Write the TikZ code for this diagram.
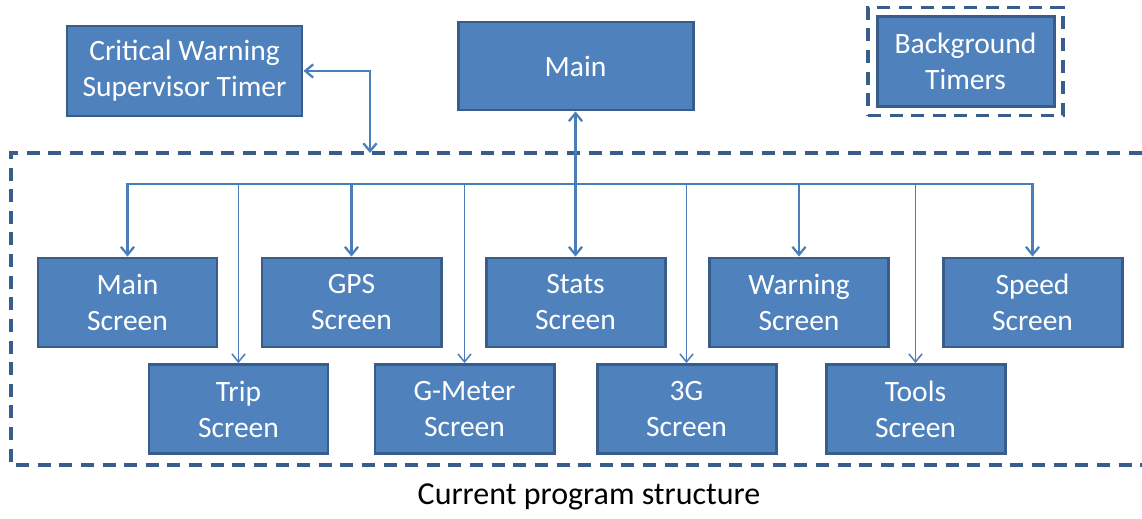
\documentclass[tikz,border=0pt]{standalone}
\usepackage{fontspec}
\setmainfont{Carlito}
\usetikzlibrary{arrows.meta,fit}
\definecolor{boxfill}{HTML}{4F81BD}
\definecolor{boxline}{HTML}{385D8A}
\definecolor{wire}{HTML}{4A7EBB}

\begin{document}
\begin{tikzpicture}[
	barb/.tip={Straight Barb[length=4.5pt,width=7.5pt]},
	blk/.style={draw=boxline,fill=boxfill,line width=1.7pt,text=white,align=center,inner sep=0pt,minimum width=3.58cm,minimum height=1.78cm,font=\fontsize{16.8}{20.5}\selectfont},
	wide/.style={blk,minimum width=4.7cm},
	grp/.style={draw=boxline,line width=2pt,dash pattern=on 7.4pt off 4.9pt},
	feed/.style={draw=wire,line width=1.3pt,-barb},
	thinfeed/.style={feed,line width=0.85pt}]
	\useasboundingbox (0,0) rectangle (22.84,10.36);
	\node[wide,minimum height=1.8cm] (crit) at (3.69,8.94) {Critical Warning\\Supervisor Timer};
	\node[wide,minimum height=1.76cm] (main) at (11.51,9.04) {Main};
	\node[blk,minimum width=3.54cm,minimum height=1.8cm] (bgt) at (19.31,9.13) {Background\\Timers};
	\node[grp,fit=(bgt),inner sep=0.15cm] (bggrp) {};
	
	\draw[grp] (22.84,7.30) -- (0.22,7.30) -- (0.22,1.06) -- (22.84,1.06);
	\coordinate (scrtop) at (7.40,7.30);
	\coordinate (bus) at (11.51,6.68);
	
	\node[blk] (mscr) at (2.55,4.31) {Main\\Screen};
	\node[blk] (gps) at (7.03,4.31) {GPS\\Screen};
	\node[blk] (stats) at (11.51,4.31) {Stats\\Screen};
	\node[blk] (warn) at (15.98,4.31) {Warning\\Screen};
	\node[blk] (speed) at (20.65,4.31) {Speed\\Screen};
	\node[blk] (trip) at (4.77,2.18) {Trip\\Screen};
	\node[blk] (gmet) at (9.29,2.18) {G-Meter\\Screen};
	\node[blk] (tg) at (13.73,2.18) {3G\\Screen};
	\node[blk] (tools) at (18.31,2.18) {Tools\\Screen};
	
	\draw[feed] (bus) -- (main.south);
	\foreach \s in {mscr,gps,stats,warn,speed} \draw[feed] (bus) -| (\s.north);
	\foreach \s in {trip,gmet,tg,tools} \draw[thinfeed] (bus) -| (\s.north);
	\draw[feed,barb-barb] (crit.east) -| (scrtop);
	
	\node[font=\fontsize{18.2}{22}\selectfont] (cap) at (11.78,0.42) {Current program structure};
\end{tikzpicture}
\end{document}
